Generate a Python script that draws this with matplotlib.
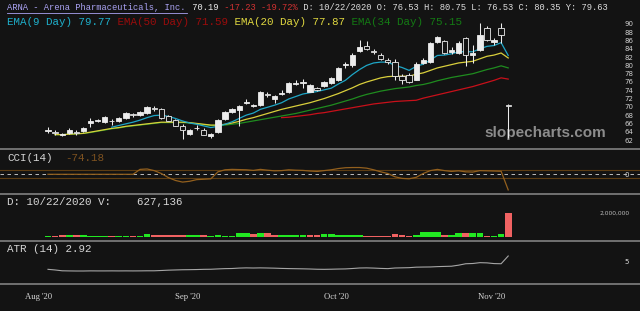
import numpy as np
import pandas as pd
import matplotlib
matplotlib.use('Agg')
import matplotlib.pyplot as plt
from matplotlib.lines import Line2D

# ARNA daily bars, 10 Aug - 10 Nov 2020
opens = [64.2, 64.0, 63.2, 63.7, 63.9, 64.1, 66.2, 66.6, 66.3, 66.7,
         66.7, 67.3, 68.2, 68.0, 68.5, 69.7, 69.5, 67.8, 66.8, 65.5,
         63.5, 64.8, 64.4, 63.0, 64.0, 67.0, 68.8, 69.2, 71.0, 70.2,
         70.4, 73.0, 72.0, 73.2, 73.6, 75.6, 75.8, 73.7, 74.5, 75.0,
         75.8, 76.6, 80.0, 80.0, 83.5, 84.6, 83.6, 82.6, 81.4, 80.9,
         77.4, 77.8, 76.53, 80.6, 80.9, 85.7, 85.8, 83.3, 83.0, 86.6,
         82.6, 83.7, 89.0, 85.6, 89.0, 70.4]
highs = [65.1, 64.4, 63.8, 64.8, 64.3, 65.2, 67.3, 67.0, 67.7, 67.1,
         67.5, 68.7, 68.5, 69.0, 70.3, 70.1, 69.8, 68.0, 67.0, 65.8,
         64.6, 65.6, 64.8, 63.7, 67.0, 68.9, 69.7, 70.5, 72.0, 70.6,
         73.8, 73.6, 72.9, 74.0, 75.9, 76.4, 76.8, 75.6, 74.9, 76.3,
         77.3, 79.7, 80.8, 82.9, 86.1, 85.9, 84.0, 83.0, 81.7, 81.5,
         78.0, 78.2, 80.75, 81.8, 85.6, 87.2, 86.2, 84.4, 85.9, 86.8,
         85.0, 90.2, 89.6, 86.5, 90.3, 70.6]
lows = [63.6, 63.1, 62.9, 63.5, 63.2, 63.9, 65.2, 66.3, 66.1, 65.6,
        66.4, 67.1, 67.6, 67.8, 68.3, 69.0, 67.0, 66.5, 65.3, 62.3,
        63.2, 64.4, 63.1, 62.6, 63.8, 66.8, 68.6, 65.3, 70.6, 69.9,
        70.2, 72.4, 71.0, 72.8, 73.4, 75.2, 74.6, 73.5, 73.8, 74.7,
        75.5, 76.3, 79.3, 79.7, 83.3, 83.8, 82.8, 81.2, 80.4, 76.6,
        75.6, 75.8, 76.53, 80.3, 80.7, 85.5, 82.7, 82.8, 82.7, 79.9,
        80.6, 83.5, 85.8, 85.0, 85.4, 62.4]
closes = [64.4, 63.6, 63.5, 64.4, 63.7, 64.8, 66.6, 66.8, 67.5, 66.5,
          67.3, 68.5, 68.0, 68.8, 70.0, 69.5, 67.3, 66.7, 65.5, 64.4,
          64.4, 65.0, 63.3, 63.5, 66.8, 68.7, 69.5, 70.2, 71.2, 70.4,
          73.6, 72.8, 72.7, 73.4, 75.7, 75.8, 75.9, 75.3, 74.1, 76.1,
          76.9, 79.4, 80.3, 82.6, 84.4, 84.0, 83.2, 81.6, 80.8, 77.4,
          76.6, 75.9, 80.35, 81.4, 85.4, 86.9, 83.1, 83.7, 85.4, 82.5,
          83.1, 87.3, 86.2, 86.2, 87.42, 70.19]
volumes_k = [350, 380, 850, 650, 650, 600, 450, 420, 480, 400,
             450, 420, 460, 500, 1170, 650, 700, 650, 800, 850,
             800, 700, 780, 500, 550, 500, 480, 1500, 1400, 1150,
             1500, 1300, 650, 600, 650, 650, 620, 650, 700, 1000,
             950, 850, 830, 800, 820, 500, 520, 480, 500, 1000,
             550, 500, 627, 1800, 1750, 1700, 650, 700, 1300, 1300,
             1500, 1450, 350, 400, 1150, 8500]

nan = np.nan
ema9 = [nan] * 9 + [
    65.1, 65.5, 65.9, 66.3, 66.8, 67.4, 67.9, 68.0, 67.7, 67.2,
    66.6, 66.1, 65.8, 65.4, 65.0, 65.3, 65.8, 66.4, 67.2, 68.0,
    68.5, 69.4, 69.9, 70.4, 71.0, 71.9, 72.5, 73.1, 73.4, 73.7,
    74.1, 74.5, 75.5, 76.4, 77.8, 79.0, 80.0, 80.6, 80.8, 80.8,
    80.0, 79.5, 78.8, 79.77, 80.3, 81.3, 82.4, 82.5, 82.8, 83.3,
    83.3, 83.3, 84.0, 84.6, 84.8, 85.5, 82.4]
ema20 = [nan] + [
    63.3, 63.3, 63.4, 63.5, 63.6, 63.9, 64.2, 64.5, 64.8, 65.0,
    65.3, 65.5, 65.7, 65.9, 66.1, 66.3, 66.3, 66.3, 66.3, 66.2,
    66.0, 65.8, 65.6, 65.6, 65.8, 66.1, 66.5, 67.0, 67.4, 67.9,
    68.4, 68.9, 69.4, 69.8, 70.2, 70.6, 71.0, 71.5, 72.0, 72.6,
    73.2, 73.9, 74.6, 75.4, 76.0, 76.5, 77.0, 77.3, 77.4, 77.4,
    77.4, 77.87, 78.2, 78.8, 79.4, 79.8, 80.2, 80.6, 80.8, 81.0,
    81.6, 82.2, 82.5, 83.0, 81.8]
ema34 = [nan] + [
    63.3, 63.3, 63.4, 63.5, 63.6, 63.8, 64.1, 64.4, 64.7, 64.9,
    65.2, 65.4, 65.6, 65.8, 66.0, 66.2, 66.2, 66.2, 66.2, 66.1,
    65.9, 65.7, 65.5, 65.5, 65.6, 65.8, 66.0, 66.3, 66.6, 66.9,
    67.2, 67.5, 67.8, 68.1, 68.4, 68.8, 69.2, 69.6, 70.0, 70.4,
    70.9, 71.4, 71.9, 72.5, 73.0, 73.4, 73.8, 74.1, 74.4, 74.6,
    74.8, 75.15, 75.4, 75.8, 76.3, 76.7, 77.1, 77.4, 77.7, 78.0,
    78.5, 79.0, 79.4, 79.9, 79.4]
ema50 = [nan] * 33 + [
    67.4, 67.5, 67.7, 67.9, 68.1, 68.4, 68.6, 68.9, 69.2, 69.5, 69.8,
    70.1, 70.4, 70.7, 70.9, 71.1, 71.3, 71.4, 71.5, 71.59, 72.1,
    72.5, 72.9, 73.3, 73.7, 74.1, 74.5, 74.9, 75.4, 75.9, 76.4,
    77.0, 76.7]
cci = [0] * 13 + [
    120, 130, 90, 20, -80, -150, -190, -170, -130, -120,
    -110, 60, 110, 120, 115, 110, 95, 120, 100, 85,
    90, 110, 100, 95, 80, 70, 90, 110, 140, 160,
    165, 165, 150, 110, 60, 20, -60, -100, -110, -74.18,
    20, 90, 120, 90, 70, 85, 60, 55, 90, 85,
    80, 75, -380]
atr = [2.40, 2.25, 2.05, 2.02, 2.00, 2.00, 2.03, 2.02, 2.02, 2.03,
       2.02, 2.03, 2.02, 2.03, 2.05, 2.05, 2.12, 2.20, 2.25, 2.30,
       2.32, 2.35, 2.40, 2.42, 2.50, 2.57, 2.60, 2.70, 2.75, 2.72,
       2.75, 2.72, 2.68, 2.62, 2.58, 2.55, 2.52, 2.48, 2.42, 2.40,
       2.43, 2.47, 2.50, 2.60, 2.72, 2.75, 2.70, 2.62, 2.57, 2.72,
       2.76, 2.80, 2.92, 2.95, 2.97, 3.05, 3.10, 3.15, 3.40, 3.74,
       3.80, 4.00, 3.95, 3.78, 3.74, 5.60]
price_ticks = list(range(62, 91, 2))

# trading calendar for the month labels
all_days = pd.bdate_range('2020-08-03', '2020-11-10')
all_days = all_days[all_days != pd.Timestamp('2020-09-07')]
first_bar = 5  # 10 Aug
month_idx = [i for i in range(len(all_days))
             if i == 0 or all_days[i].month != all_days[i - 1].month]
month_pos = [i - first_bar + 3.7 for i in month_idx]
month_lab = [all_days[i].strftime("%b '%y") for i in month_idx]

BG = '#131313'
CANDLE = '#ececec'
MONO = ['Liberation Mono', 'DejaVu Sans Mono']
W, H = 640, 311

o, h, l, c = map(np.array, (opens, highs, lows, closes))
x = np.arange(len(c))

fig = plt.figure(figsize=(6.4, 3.11), dpi=100, facecolor=BG)


def px_axes(top, bottom):
    a = fig.add_axes([0, 1 - bottom / H, 1, (bottom - top) / H])
    a.set_facecolor(BG)
    for s in a.spines.values():
        s.set_visible(False)
    a.set_xlim(-48 / 7.08, 592 / 7.08)
    a.set_xticks([])
    a.set_yticks([])
    return a


def ftext(px, py, s, color, size=7.8, **kw):
    fig.text(px / W, 1 - py / H, s, color=color, fontsize=size,
             family=MONO, va='center', ha='left', **kw)


ax = px_axes(0, 148)
ax_cci = px_axes(149, 193)
ax_vol = px_axes(194, 240)
ax_atr = px_axes(241, 283)

# price panel
ax.set_ylim(60.07, 95.79)
ax.plot(x, ema34, color='#1f8c1f', lw=0.9, zorder=2)
ax.plot(x, ema20, color='#d9cf3c', lw=0.9, zorder=2)
ax.plot(x, ema50, color='#c8101a', lw=0.9, zorder=2)
ax.plot(x, ema9, color='#1ea6c6', lw=0.9, zorder=2)
ax.vlines(x, l, h, color=CANDLE, lw=0.75, zorder=3)
up = c >= o
ax.bar(x, np.maximum(np.abs(c - o), 0.12), bottom=np.minimum(o, c), width=0.75,
       color=np.where(up, CANDLE, BG), edgecolor=CANDLE, linewidth=0.6, zorder=4)
ax.text(545 / W, 1 - 133 / 148, 'slopecharts.com', transform=ax.transAxes,
        ha='center', va='center', fontsize=11, fontweight='bold',
        color='#8c8c8c', family=['Liberation Sans', 'DejaVu Sans'], zorder=1)
ax.yaxis.tick_right()
ax.set_yticks(price_ticks)
ax.tick_params(axis='y', length=0, pad=-11, labelsize=5, labelcolor='#cfcfcf')

# CCI panel
ax_cci.set_ylim(-456, 617)
ax_cci.axhline(100, color='#5e3d12', lw=0.8)
ax_cci.axhline(-100, color='#5e3d12', lw=0.8)
ax_cci.axhline(0, color='#bdbdbd', lw=0.7, dashes=(3.6, 3.6))
ax_cci.plot(x, cci, color='#93601e', lw=0.9)
ax_cci.yaxis.tick_right()
ax_cci.set_yticks([0])
ax_cci.tick_params(axis='y', length=0, pad=-11, labelsize=5, labelcolor='#dddddd')

# volume panel
vol = np.array(volumes_k) * 1000
vup = np.r_[True, c[1:] >= c[:-1]]
ax_vol.set_ylim(-1.05e6, 15.0e6)
ax_vol.bar(x, vol, width=0.95, color=np.where(vup, '#22e822', '#f06262'))
fig.text(615 / W, 1 - 213 / H, '2,000,000', color='#bbbbbb', fontsize=4.3,
         ha='center', va='center')

# ATR panel
ax_atr.set_ylim(-0.88, 9.2)
ax_atr.plot(x, atr, color='#a6a6a6', lw=0.8)
ax_atr.yaxis.tick_right()
ax_atr.set_yticks([5])
ax_atr.tick_params(axis='y', length=0, pad=-11, labelsize=5, labelcolor='#dddddd')
for t in ax_atr.get_yticklabels():
    t.set_va('top')
ax_atr.set_xticks(month_pos, month_lab)
ax_atr.tick_params(axis='x', length=0, pad=7, labelsize=6.2, labelcolor='#d6d6d6')
for t in ax_atr.get_xticklabels():
    t.set_fontfamily(['Liberation Serif', 'DejaVu Serif'])

# panel separators
for y in [148.5, 193.5, 240.5, 283.5]:
    fig.add_artist(Line2D([0, 1], [1 - y / H] * 2, color='#8a8a8a', lw=1.1))

# header lines
cw1 = 5.29
ftext(7, 8, 'ARNA - Arena Pharmaceuticals, Inc.', '#aaa2f2', size=6.35)
fig.add_artist(Line2D([7 / W, (7 + 34 * cw1) / W], [1 - 12.5 / H] * 2,
                      color='#aaa2f2', lw=0.6))
ftext(7 + 34 * cw1, 8, ' 70.19', '#eeeeee', size=6.35)
ftext(7 + 40 * cw1, 8, ' -17.23 -19.72%', '#d23232', size=6.35)
ftext(7 + 55 * cw1, 8, ' D: 10/22/2020 O: 76.53 H: 80.75 L: 76.53 C: 80.35 Y: 79.63',
      '#dddddd', size=6.35)

cw2 = 6.5
ftext(7, 22, 'EMA(9 Day) 79.77', '#1eb0cc')
ftext(7 + 16 * cw2, 22, ' EMA(50 Day) 71.59', '#9a0c0c')
ftext(7 + 34 * cw2, 22, ' EMA(20 Day) 77.87', '#e0d840')
ftext(7 + 52 * cw2, 22, ' EMA(34 Day) 75.15', '#137a13')

ftext(7, 158, 'CCI(14)', '#d6d6d6')
ftext(65, 158, '-74.18', '#7e5220')
ftext(7, 202, 'D: 10/22/2020 V:    627,136', '#d6d6d6')
ftext(7, 249, 'ATR (14) 2.92', '#d6d6d6')

fig.savefig('out.png', dpi=100, facecolor=BG)
